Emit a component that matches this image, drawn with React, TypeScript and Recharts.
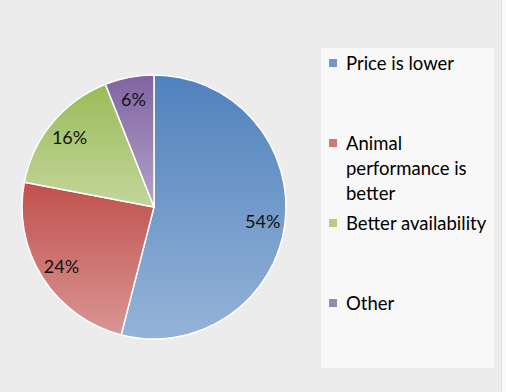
import { PieChart, Pie, Cell, Legend } from 'recharts'

const categories = ['Price is lower', 'Animal performance is better', 'Better availability', 'Other']
const shares = [54, 24, 16, 6]

// top / bottom stops of each slice gradient
const topColors = ['#4f81bd', '#c0504d', '#9bbb59', '#8064a2']
const bottomColors = ['#95b3d7', '#d99694', '#c3d69b', '#b3a2c7']
const swatchColors = ['#7299cc', '#d07a78', '#b4cc84', '#9a86ba']

const data = categories.map((name, i) => ({ name, value: shares[i] }))

const RADIAN = Math.PI / 180
const FONT = 'Lato, "Open Sans", sans-serif'

const renderLabel = (props: any) => {
  const { cx, cy, midAngle, outerRadius, value } = props
  const r = outerRadius * 0.83
  const x = cx + r * Math.cos(-midAngle * RADIAN)
  const y = cy + r * Math.sin(-midAngle * RADIAN)
  return (
    <text
      x={x}
      y={y}
      fill="#111"
      textAnchor="middle"
      dominantBaseline="central"
      fontFamily={FONT}
      fontSize={18}
    >
      {`${value}%`}
    </text>
  )
}

// legend keeps the category order of the data
const LegendBox = () => (
  <div
    style={{
      width: 173,
      height: 320,
      background: '#f8f8f8',
      boxSizing: 'border-box',
      paddingTop: 3,
      fontFamily: FONT,
    }}
  >
    {categories.map((name, i) => (
      <div key={name} style={{ height: 80, display: 'flex', alignItems: 'flex-start' }}>
        <div
          style={{
            width: 8,
            height: 8,
            marginLeft: 8,
            marginTop: 8,
            background: swatchColors[i],
            flexShrink: 0,
          }}
        />
        <div
          style={{
            marginLeft: 9,
            width: 150,
            fontSize: 18.5,
            lineHeight: '25px',
            color: '#000',
            textAlign: 'left',
          }}
        >
          {name}
        </div>
      </div>
    ))}
  </div>
)

export default function App() {
  return (
    <div
      style={{
        position: 'absolute',
        left: 0,
        top: 0,
        width: 506,
        height: 392,
        background: '#fafafa',
      }}
    >
      <div
        style={{
          position: 'absolute',
          left: 0,
          top: 0,
          width: 501,
          height: 392,
          background: '#ececec',
          borderRight: '1px solid #e0e0e0',
        }}
      />
      <div style={{ position: 'absolute', left: 0, top: 0 }}>
        <PieChart width={506} height={392} margin={{ top: 0, right: 0, bottom: 0, left: 0 }}>
          <defs>
            {topColors.map((c, i) => (
              <linearGradient key={c} id={`slice${i}`} x1="0" y1="0" x2="0" y2="1">
                <stop offset="0%" stopColor={c} />
                <stop offset="100%" stopColor={bottomColors[i]} />
              </linearGradient>
            ))}
          </defs>
          <Pie
            data={data}
            dataKey="value"
            nameKey="name"
            cx={154}
            cy={207}
            outerRadius={132}
            startAngle={90}
            endAngle={-270}
            stroke="#ffffff"
            strokeWidth={1.5}
            label={renderLabel}
            labelLine={false}
            isAnimationActive={false}
          >
            {data.map((d, i) => (
              <Cell key={d.name} fill={`url(#slice${i})`} />
            ))}
          </Pie>
          <Legend
            layout="vertical"
            align="right"
            verticalAlign="top"
            content={<LegendBox />}
            wrapperStyle={{ left: 321, top: 48, width: 173, height: 320 }}
          />
        </PieChart>
      </div>
    </div>
  )
}
